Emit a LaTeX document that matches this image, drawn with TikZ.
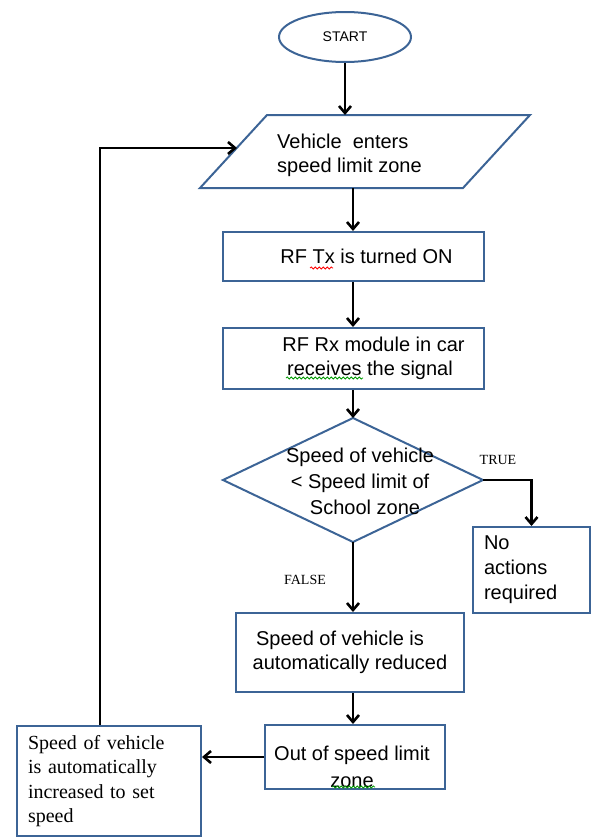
\documentclass[tikz,border=0pt]{standalone}
\usepackage{fontspec}
\setmainfont{Liberation Sans}
\newfontfamily\serifface{Liberation Serif}
\usetikzlibrary{arrows.meta,shapes.geometric,decorations.pathmorphing}
\definecolor{boxblue}{RGB}{60,100,150}
\begin{document}
\begin{tikzpicture}[x=1pt,y=-1pt,
  shapeline/.style={draw=boxblue,line width=2pt},
  box/.style={shapeline,rectangle,inner sep=0pt,align=center,font=\fontsize{20}{24}\selectfont},
  txt/.style={inner sep=0pt,align=center,font=\fontsize{20}{25}\selectfont},
  arr/.style={line width=2.6pt,-{Straight Barb[length=7pt,width=12pt]}},
  lbl/.style={inner sep=0pt,font=\serifface\fontsize{14}{16}\selectfont},
  wavy/.style={line width=0.8pt,decorate,decoration={snake,amplitude=1pt,segment length=4pt}}]
\useasboundingbox (0,0) rectangle (595,838);
% start
\node[shapeline,ellipse,minimum width=132pt,minimum height=50pt,inner sep=0pt,font=\fontsize{14}{16}\selectfont] (start) at (345,37) {START};
% parallelogram
\coordinate (pTL) at (267,115);
\coordinate (pTR) at (530,115);
\coordinate (pBR) at (463,188);
\coordinate (pBL) at (200,188);
\draw[shapeline] (pTL) -- (pTR) -- (pBR) -- (pBL) -- cycle;
\node[txt,align=left,anchor=west,font=\fontsize{20}{24}\selectfont] (para) at (277,155) {Vehicle\ \ enters\\speed limit zone};
\coordinate (ptop) at (345,115);
\coordinate (pbot) at (353,188);
\coordinate (pleft) at (237,148);
% boxes
\node[box,minimum width=261pt,minimum height=49pt] (rftx) at (353.5,256.5) {\hspace*{26pt}RF Tx is turned ON};
\node[box,minimum width=261pt,minimum height=61pt] (rfrx) at (353.5,358.5) {\hspace*{40pt}RF Rx module in car\\\hspace*{33pt}receives the signal};
% decision
\coordinate (dT) at (353,418);
\coordinate (dR) at (483,480);
\coordinate (dB) at (353,542);
\coordinate (dL) at (223,480);
\draw[shapeline] (dT) -- (dR) -- (dB) -- (dL) -- cycle;
\node[txt,font=\fontsize{20}{26}\selectfont] (cond) at (360,481) {Speed of vehicle\\{<} Speed limit of\hspace*{16pt}\\\hspace*{10pt}School zone};
\node[lbl] (true) at (498,460) {TRUE};
\node[lbl] (false) at (305,580) {FALSE};
\node[box,minimum width=117pt,minimum height=86pt,text width=95pt,align=left,font=\fontsize{20}{25}\selectfont] (noact) at (531.5,570) {No\\actions\\required};
\node[box,minimum width=228pt,minimum height=79pt] (reduce) at (350,652.5) {Speed of vehicle is\hspace*{20pt}\\automatically reduced};
\node[box,minimum width=180pt,minimum height=64pt] (out) at (355,757) {};
\node[txt,font=\fontsize{20}{27}\selectfont] (outtext) at (352,767) {Out of speed limit\\zone};
\node[box,minimum width=184pt,minimum height=110pt,text width=162pt,align=left,font=\serifface\fontsize{20}{24.5}\selectfont] (incr) at (109,781) {Speed of vehicle\\is automatically\\increased to set\\speed};
% connectors
\coordinate (loopx) at (100,0);
\draw[arr] (start.south) -- (ptop);
\draw[arr] (pbot) -- (rftx.north -| pbot);
\draw[arr] (rftx.south -| pbot) -- (rfrx.north -| pbot);
\draw[arr] (rfrx.south -| pbot) -- (dT);
\draw[arr] (dR) -| (noact.north);
\draw[arr] (dB) -- (reduce.north -| dB);
\draw[arr] (reduce.south -| dB) -- (out.north -| dB);
\draw[arr] (out.west) -- (incr.east |- out.west);
\draw[arr] (incr.north -| loopx) |- (pleft);
% spell-check marks
\draw[red,wavy] (310,268) -- (333,268);
\draw[green!60!black,wavy] (286,378) -- (363,378);
\draw[green!60!black,wavy] (332,787) -- (375,787);
\end{tikzpicture}
\end{document}
